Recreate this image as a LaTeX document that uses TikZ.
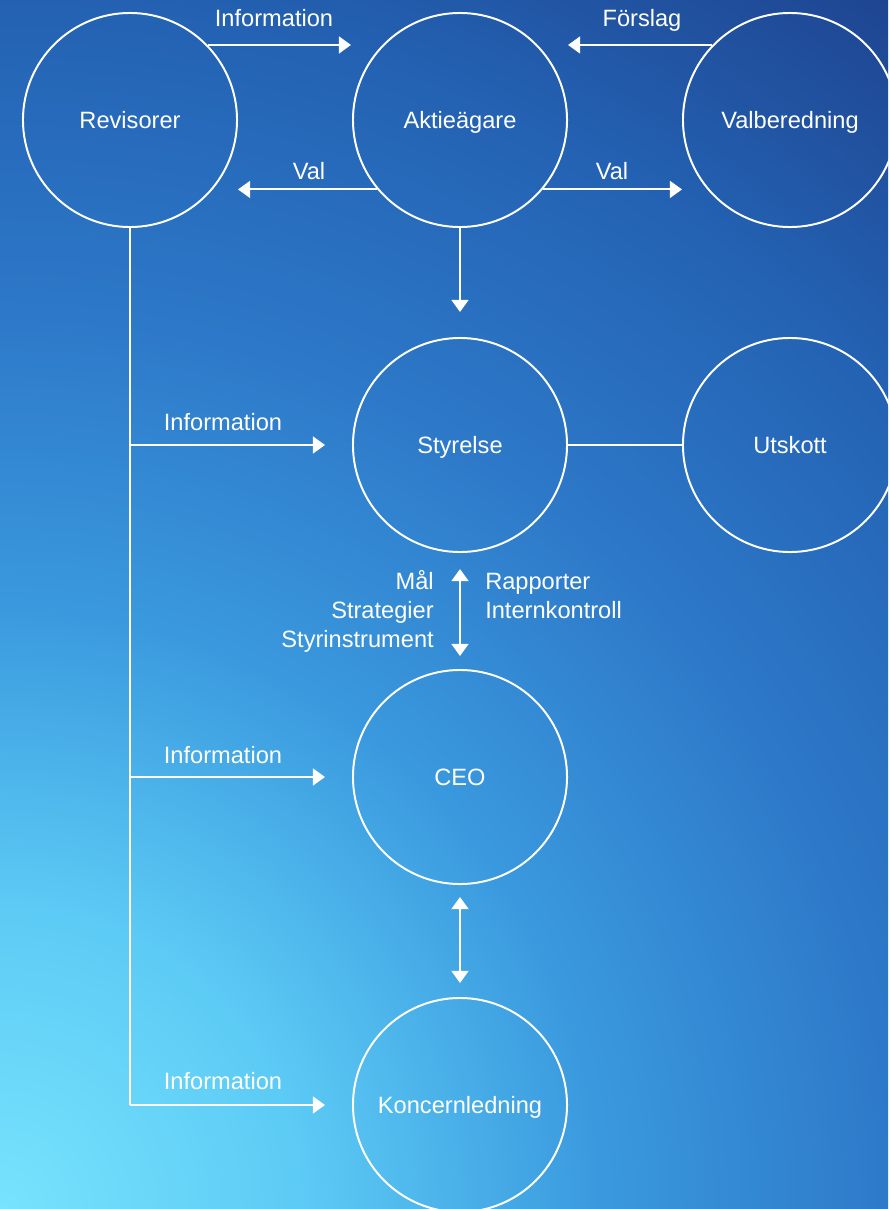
\documentclass[tikz,border=0pt]{standalone}
\usepackage{fontspec}
\setmainfont{Liberation Sans}
\usetikzlibrary{arrows.meta}

\definecolor{glowA}{RGB}{120, 227, 253}
\definecolor{glowB}{RGB}{92, 203, 245}
\definecolor{glowC}{RGB}{58, 153, 222}
\definecolor{glowD}{RGB}{45, 120, 200}
\definecolor{glowE}{RGB}{36, 98, 179}
\definecolor{glowF}{RGB}{30, 69, 145}
\pgfdeclareradialshading{bgglow}{\pgfpoint{0bp}{0bp}}{color(0bp)=(glowA); color(5bp)=(glowB); color(10bp)=(glowC); color(15bp)=(glowD); color(20bp)=(glowE); color(25bp)=(glowF); color(50bp)=(glowF)}

\begin{document}
\begin{tikzpicture}[x=0.025cm, y=-0.025cm,
    org/.style={circle, draw=white, line width=1.4pt, minimum size=5.35cm, inner sep=0pt, text=white, font=\fontsize{16.8pt}{20pt}\selectfont, text height=12pt, text depth=0pt},
    lbl/.style={text=white, font=\fontsize{16.8pt}{20.6pt}\selectfont, inner sep=0pt, anchor=base},
    conn/.style={draw=white, line width=1.4pt},
    arr/.style={conn, -{Triangle[length=0.3cm, width=0.42cm]}},
    dbl/.style={conn, {Triangle[length=0.3cm, width=0.42cm]}-{Triangle[length=0.3cm, width=0.42cm]}}]
            \useasboundingbox (0,0) rectangle (888,1209);
            \begin{scope}
                \clip (0,0) rectangle (888,1209);
                \shade[shading=bgglow] (0,1209) circle [radius=37.5cm];
            \end{scope}
            % top row
            \node[org] (revisorer) at (130,120) {Revisorer};
            \node[org] (aktieagare) at (460,120) {Aktieägare};
            \node[org] (valberedning) at (790,120) {Valberedning};
            \draw[arr, shorten >=0.025cm] (revisorer.44) -- (revisorer.44 -| aktieagare.west);
            \node[lbl] at (274,27) {Information};
            \draw[arr] (valberedning.136) -- (valberedning.136 -| aktieagare.east);
            \node[lbl] at (642,27) {Förslag};
            \draw[arr] (aktieagare.220) -- (aktieagare.220 -| revisorer.east);
            \node[lbl] at (309,179) {Val};
            \draw[arr] (aktieagare.-40) -- (aktieagare.-40 -| valberedning.west);
            \node[lbl] at (612,179) {Val};
            % board and management
            \node[org] (styrelse) at (460,445) {Styrelse};
            \node[org] (utskott) at (790,445) {Utskott};
            \node[org] (ceo) at (460,777) {CEO};
            \node[org] (koncern) at (460,1105) {Koncernledning};
            \draw[arr, shorten >=0.625cm] (aktieagare) -- (styrelse);
            \draw[conn] (styrelse) -- (utskott);
            \draw[dbl, shorten <=0.4cm, shorten >=0.325cm] (styrelse) -- (ceo);
            \node[lbl, align=right, anchor=base east] at (434,647) {Mål\\Strategier\\Styrinstrument};
            \node[lbl, align=left, anchor=base west] at (485,618) {Rapporter\\Internkontroll};
            \draw[dbl, shorten <=0.3cm, shorten >=0.35cm] (ceo) -- (koncern);
            % auditors line
            \coordinate (revbottom) at (revisorer.south |- koncern);
            \draw[conn] (revisorer.south) -- (revbottom);
            \draw[arr, shorten >=0.675cm] (revisorer.south |- styrelse) -- (styrelse);
            \node[lbl] at (223,430) {Information};
            \draw[arr, shorten >=0.675cm] (revisorer.south |- ceo) -- (ceo);
            \node[lbl] at (223,763) {Information};
            \draw[arr, shorten >=0.675cm] (revbottom) -- (koncern);
            \node[lbl] at (223,1089) {Information};
        \end{tikzpicture}
\end{document}
